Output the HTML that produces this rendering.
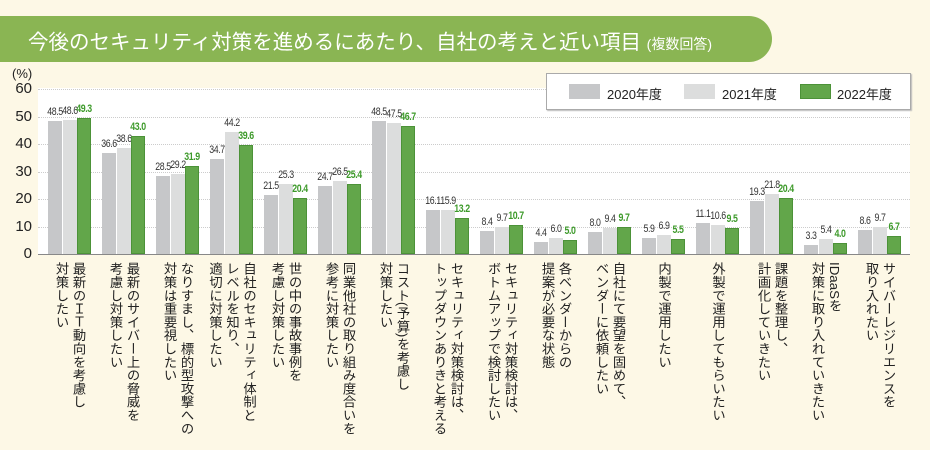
<!DOCTYPE html>
<html><head><meta charset="utf-8"><style>
*{margin:0;padding:0;box-sizing:border-box}
body{width:930px;height:450px;background:#fdf8e6;position:relative;overflow:hidden;font-family:"Liberation Sans","Noto Sans CJK JP",sans-serif;color:#222}
.banner{position:absolute;left:0;top:16px;width:772px;height:46px;background:#8ab553;border-radius:0 23px 23px 0}
.banner span{position:absolute;left:28px;top:9px;color:#fff;font-size:20.5px;white-space:nowrap}
.banner small{font-size:14px}
.plot{position:absolute;left:38px;top:88px;width:872px;height:167px;background:#fff}
.g{position:absolute;left:38px;width:872px;height:0;border-top:1px dotted #ccc}
.yl{position:absolute;left:6px;width:26px;text-align:right;font-size:15px;line-height:15px}
.bar{position:absolute;width:14px}
.b1{background:#c6c7c9}.b2{background:#dcdddd}.b3{background:#62a64a;border:1px solid #4c9238}
.v{position:absolute;width:30px;text-align:center;font-size:11px;letter-spacing:-0.5px;color:#333;transform:scaleX(.8)}
.v3{color:#3d9a2a;font-weight:bold}
.lab{position:absolute;top:262px;writing-mode:vertical-rl;font-size:13.3px;line-height:17px;white-space:pre;color:#222}
.leg{position:absolute;left:546px;top:73px;width:365px;height:37px;background:#fff;border:1px solid #aaa;box-shadow:1px 1px 1px #bbb}
.sw{position:absolute;top:10px;width:31px;height:15px}
.lt{position:absolute;top:10px;font-size:13px}
</style></head><body>
<div class="banner"><span>今後のセキュリティ対策を進めるにあたり、自社の考えと近い項目 <small>(複数回答)</small></span></div>
<div class="plot"></div>
<div style="position:absolute;left:12px;top:66px;font-size:13px">(%)</div>
<div id="c"></div>
<div class="leg">
<div class="sw b1" style="left:22px"></div><div class="lt" style="left:60px">2020年度</div>
<div class="sw b2" style="left:137px"></div><div class="lt" style="left:175px">2021年度</div>
<div class="sw b3" style="left:253px"></div><div class="lt" style="left:290px">2022年度</div>
</div>
<script>
const D=[[48.5,48.6,49.3,"最新のＩＴ動向を考慮し\n対策したい"],[36.6,38.6,43.0,"最新のサイバー上の脅威を\n考慮し対策したい"],[28.5,29.2,31.9,"なりすまし、標的型攻撃への\n対策は重要視したい"],[34.7,44.2,39.6,"自社のセキュリティ体制と\nレベルを知り、\n適切に対策したい"],[21.5,25.3,20.4,"世の中の事故事例を\n考慮し対策したい"],[24.7,26.5,25.4,"同業他社の取り組み度合いを\n参考に対策したい"],[48.5,47.5,46.7,"コスト(予算)を考慮し\n対策したい"],[16.1,15.9,13.2,"セキュリティ対策検討は、\nトップダウンありきと考える"],[8.4,9.7,10.7,"セキュリティ対策検討は、\nボトムアップで検討したい"],[4.4,6.0,5.0,"各ベンダーからの\n提案が必要な状態"],[8.0,9.4,9.7,"自社にて要望を固めて、\nベンダーに依頼したい"],[5.9,6.9,5.5,"内製で運用したい"],[11.1,10.6,9.5,"外製で運用してもらいたい"],[19.3,21.8,20.4,"課題を整理し、\n計画化していきたい"],[3.3,5.4,4.0,"IDaaSを\n対策に取り入れていきたい"],[8.6,9.7,6.7,"サイバーレジリエンスを\n取り入れたい"]];
let h="";const Y=v=>254-v*2.75;
for(let k=0;k<=6;k++){const y=Y(k*10);if(k>0)h+=`<div class="g" style="top:${y}px"></div>`;h+=`<div class="yl" style="top:${y-8}px">${k*10}</div>`;}
h+=`<div style="position:absolute;left:38px;top:254px;width:872px;height:1px;background:#888"></div>`;
D.forEach((d,i)=>{const x=48+54*i;for(let j=0;j<3;j++){const bx=x+j*14.5,t=Y(d[j]);h+=`<div class="bar b${j+1}" style="left:${bx}px;top:${t}px;height:${254-t}px"></div>`;h+=`<div class="v ${j==2?'v3':''}" style="left:${bx-8}px;top:${t-15}px">${d[j].toFixed(1)}</div>`;}
const n=d[3].split("\n").length,w=n*17;h+=`<div class="lab" style="left:${x+22-w/2}px;width:${w}px">${d[3]}</div>`;});
document.getElementById("c").innerHTML=h;
</script>
</body></html>
